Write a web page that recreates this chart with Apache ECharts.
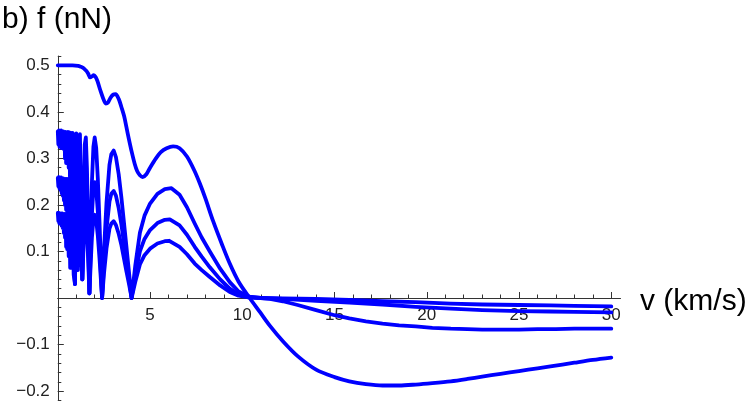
<!DOCTYPE html>
<html>
<head>
<meta charset="utf-8">
<script src="https://cdn.jsdelivr.net/npm/echarts@6/dist/echarts.min.js"></script>
<style>
  html, body { margin: 0; background: #fff; }
  #chart { width: 750px; height: 407px; }
</style>
</head>
<body>
<div id="chart"></div>
<script>
// force f (nN) against speed v (km/s), four curves
const curveA = [
  [0, 0.5], [0.4, 0.5], [0.8, 0.5], [1.1, 0.499], [1.25, 0.497], [1.35, 0.495], [1.45, 0.492],
  [1.55, 0.488], [1.65, 0.482], [1.75, 0.474], [1.85, 0.476], [1.95, 0.479], [2.05, 0.475],
  [2.15, 0.466], [2.3, 0.447], [2.45, 0.43], [2.6, 0.418], [2.72, 0.42], [2.85, 0.43],
  [3.0, 0.437], [3.13, 0.438], [3.3, 0.428], [3.45, 0.41], [3.6, 0.39], [3.72, 0.367],
  [3.85, 0.342], [4.0, 0.315], [4.17, 0.288], [4.3, 0.273], [4.45, 0.264], [4.6, 0.26],
  [4.8, 0.266], [5.0, 0.28], [5.3, 0.299], [5.6, 0.314], [5.9, 0.322], [6.25, 0.326],
  [6.6, 0.322], [7.0, 0.304], [7.4, 0.274], [7.7, 0.246], [8.0, 0.214], [8.42, 0.165],
  [8.9, 0.115], [9.32, 0.074], [9.8, 0.035], [10.4, 0.0], [10.95, -0.03], [11.5, -0.06],
  [12.2, -0.093], [13.0, -0.125], [14.0, -0.154], [15.0, -0.17], [15.8, -0.179], [16.7, -0.185],
  [17.6, -0.188], [18.5, -0.188], [19.4, -0.186], [20.3, -0.183], [21.3, -0.179], [22.2, -0.174],
  [23.0, -0.169], [24.0, -0.163], [25.0, -0.157], [26.0, -0.151], [26.7, -0.147], [28.0, -0.139],
  [29.0, -0.133], [30.0, -0.128]
];

const curveB = [
  [0, 0.358], [0.03, 0.33], [0.06, 0.36], [0.09, 0.325], [0.12, 0.358], [0.15, 0.33], [0.18, 0.36],
  [0.21, 0.322], [0.24, 0.357], [0.27, 0.325], [0.3, 0.358], [0.33, 0.32], [0.36, 0.356], [0.39, 0.3],
  [0.42, 0.357], [0.45, 0.29], [0.48, 0.356], [0.51, 0.29], [0.55, 0.357], [0.59, 0.28], [0.63, 0.356],
  [0.67, 0.22], [0.71, 0.355], [0.76, 0.15], [0.8, 0.355], [0.86, 0.14], [0.93, 0.03], [1.0, 0.354],
  [1.09, 0.12], [1.2, 0.352], [1.33, 0.04], [1.4, 0.22], [1.46, 0.33], [1.52, 0.345], [1.58, 0.28],
  [1.65, 0.15], [1.714, 0.01], [1.78, 0.14], [1.85, 0.25], [1.93, 0.325], [2.0, 0.345], [2.08, 0.323],
  [2.17, 0.256], [2.26, 0.163], [2.34, 0.07], [2.4, 0], [2.5, 0.1], [2.64, 0.205], [2.8, 0.286],
  [2.9, 0.309], [3.03, 0.317], [3.15, 0.303], [3.3, 0.266], [3.45, 0.215], [3.72, 0.11], [3.86, 0.055],
  [4.0, 0], [4.2, 0.07], [4.45, 0.14], [4.7, 0.177], [5.0, 0.203], [5.4, 0.224], [5.8, 0.234],
  [6.16, 0.236], [6.6, 0.222], [7.0, 0.195], [7.42, 0.16], [7.8, 0.13], [8.24, 0.1], [8.8, 0.063],
  [9.32, 0.034], [9.8, 0.014], [10.4, 0.003], [11.0, 0.0], [11.5, -0.002], [12.2, -0.007],
  [13.0, -0.015], [14.0, -0.026], [15.0, -0.037], [15.8, -0.044], [16.7, -0.05], [17.6, -0.055],
  [18.5, -0.059], [19.4, -0.061], [20.3, -0.064], [21.3, -0.066], [22.2, -0.067], [23.0, -0.068],
  [24.0, -0.068], [25.0, -0.068], [26.0, -0.067], [27.0, -0.067], [28.0, -0.066], [29.0, -0.066],
  [30.0, -0.066]
];

const curveC = [
  [0, 0.258], [0.03, 0.24], [0.06, 0.26], [0.09, 0.235], [0.12, 0.258], [0.15, 0.232], [0.18, 0.259],
  [0.21, 0.225], [0.24, 0.257], [0.27, 0.22], [0.3, 0.257], [0.33, 0.21], [0.36, 0.256], [0.39, 0.2],
  [0.42, 0.256], [0.45, 0.19], [0.48, 0.256], [0.51, 0.18], [0.55, 0.256], [0.59, 0.16], [0.63, 0.255],
  [0.67, 0.13], [0.71, 0.255], [0.76, 0.1], [0.8, 0.255], [0.86, 0.09], [0.93, 0.03], [1.0, 0.254],
  [1.09, 0.09], [1.2, 0.253], [1.33, 0.04], [1.4, 0.16], [1.46, 0.24], [1.52, 0.25], [1.58, 0.203],
  [1.65, 0.109], [1.714, 0.01], [1.78, 0.1], [1.85, 0.18], [1.93, 0.235], [2.0, 0.249], [2.08, 0.234],
  [2.17, 0.185], [2.26, 0.118], [2.34, 0.05], [2.4, 0], [2.5, 0.071], [2.64, 0.149], [2.8, 0.207],
  [2.9, 0.224], [3.03, 0.23], [3.15, 0.22], [3.3, 0.193], [3.45, 0.157], [3.72, 0.08], [3.86, 0.04],
  [4.0, 0], [4.2, 0.05], [4.45, 0.1], [4.7, 0.127], [5.0, 0.146], [5.4, 0.161], [5.8, 0.168],
  [6.07, 0.169], [6.6, 0.156], [7.0, 0.136], [7.42, 0.11], [7.8, 0.089], [8.24, 0.066], [8.8, 0.04],
  [9.32, 0.02], [9.8, 0.008], [10.4, 0.002], [11.0, 0.0], [12.2, -0.002], [14.0, -0.006],
  [15.8, -0.01], [17.6, -0.014], [19.4, -0.019], [21.3, -0.023], [23.0, -0.026], [25.0, -0.028],
  [26.7, -0.029], [28.0, -0.03], [30.0, -0.031]
];

const curveD = [
  [0, 0.183], [0.03, 0.165], [0.06, 0.183], [0.09, 0.16], [0.12, 0.182], [0.15, 0.16], [0.18, 0.182],
  [0.21, 0.155], [0.24, 0.182], [0.27, 0.15], [0.3, 0.181], [0.33, 0.14], [0.36, 0.181], [0.39, 0.13],
  [0.42, 0.18], [0.45, 0.11], [0.48, 0.18], [0.51, 0.105], [0.55, 0.18], [0.59, 0.09], [0.63, 0.18],
  [0.67, 0.065], [0.71, 0.18], [0.76, 0.065], [0.8, 0.18], [0.86, 0.05], [0.93, 0.03], [1.0, 0.18],
  [1.09, 0.06], [1.2, 0.18], [1.33, 0.04], [1.4, 0.114], [1.46, 0.17], [1.52, 0.18], [1.58, 0.146],
  [1.65, 0.078], [1.714, 0.01], [1.78, 0.071], [1.85, 0.13], [1.93, 0.169], [2.0, 0.179], [2.08, 0.168],
  [2.17, 0.133], [2.26, 0.085], [2.34, 0.036], [2.4, 0], [2.5, 0.051], [2.64, 0.107], [2.8, 0.149],
  [2.9, 0.16], [3.03, 0.165], [3.15, 0.157], [3.3, 0.138], [3.45, 0.113], [3.72, 0.057], [3.86, 0.03],
  [4.0, 0], [4.2, 0.035], [4.45, 0.072], [4.7, 0.092], [5.0, 0.106], [5.4, 0.117], [5.8, 0.122],
  [6.04, 0.123], [6.6, 0.11], [7.0, 0.094], [7.42, 0.074], [7.8, 0.06], [8.24, 0.045], [8.8, 0.027],
  [9.32, 0.013], [9.8, 0.005], [10.4, 0.001], [11.0, 0.0], [12.2, -0.001], [14.0, -0.002],
  [15.8, -0.004], [17.6, -0.007], [19.4, -0.009], [21.3, -0.012], [23.0, -0.014], [25.0, -0.015],
  [26.7, -0.016], [28.0, -0.017], [30.0, -0.018]
];

const xTickStep = 5;
const yTickStep = 0.1;

const chart = echarts.init(document.getElementById("chart"), null, { renderer: "canvas" });

// pixel mapping of the original plot
const X0 = 57.8, Y0 = 298;
const PX_X = 18.45;   // px per km/s
const PX_Y = 465.3;   // px per nN

const axisColor = "#333";
const labelFont = { fontSize: 17, color: "#222", fontFamily: "Liberation Sans" };
const lineColor = "#0000ff";
const noLine = { show: false, onZero: false };

const fmtY = (v) => {
  if (Math.abs(v) < 1e-9) return "";
  return v < 0 ? "\u2212" + (-v).toFixed(1) : v.toFixed(1);
};
const fmtX = (v) => (v === 0 ? "" : String(v));

const makeSeries = (data, smooth) => ({
  type: "line",
  xAxisIndex: 0,
  yAxisIndex: 0,
  data: data,
  smooth: smooth,
  showSymbol: false,
  silent: true,
  lineStyle: { color: lineColor, width: 3.8, join: "round", cap: "round" },
});

const option = {
  animation: false,
  backgroundColor: "#fff",
  grid: [
    // 0: data grid, axis lines run a little past the last ticks
    {
      left: X0, top: Y0 - 0.52 * PX_Y, width: 30.5 * PX_X, height: 0.74 * PX_Y,
      outerBoundsMode: "none", containLabel: false,
    },
    // 1: y ticks and labels
    {
      left: X0, top: Y0 - 0.5 * PX_Y, width: 30 * PX_X, height: 0.7 * PX_Y,
      outerBoundsMode: "none", containLabel: false,
    },
    // 2: x ticks and labels, bottom edge sits on f = 0
    {
      left: X0, top: 100, width: 30 * PX_X, height: Y0 - 100,
      outerBoundsMode: "none", containLabel: false,
    },
  ],
  xAxis: [
    {
      gridIndex: 0, type: "value", min: 0, max: 30.5,
      axisLine: { onZero: true, lineStyle: { color: axisColor, width: 1 } },
      axisTick: { show: false }, axisLabel: { show: false }, splitLine: { show: false },
    },
    {
      gridIndex: 1, type: "value", min: 0, max: 30, show: false,
    },
    {
      gridIndex: 2, type: "value", min: 0, max: 30, interval: xTickStep, position: "bottom",
      axisLine: noLine,
      axisTick: { inside: true, length: 6, lineStyle: { color: axisColor } },
      minorTick: { show: true, splitNumber: 5, length: 3.5, lineStyle: { color: axisColor } },
      axisLabel: { ...labelFont, margin: 9, formatter: fmtX },
      splitLine: { show: false },
    },
  ],
  yAxis: [
    {
      gridIndex: 0, type: "value", min: -0.22, max: 0.52, interval: 0.02,
      axisLine: { show: true, onZero: true, lineStyle: { color: axisColor, width: 1 } },
      axisTick: { inside: true, length: 3.5, lineStyle: { color: axisColor } },
      axisLabel: { show: false }, splitLine: { show: false },
    },
    {
      gridIndex: 1, type: "value", min: -0.2, max: 0.5, interval: yTickStep, position: "left",
      axisLine: noLine,
      axisTick: { inside: true, length: 6, lineStyle: { color: axisColor } },
      axisLabel: { ...labelFont, margin: 8, formatter: fmtY },
      splitLine: { show: false },
    },
    {
      gridIndex: 2, type: "value", min: 0, max: 1, show: false,
    },
  ],
  graphic: [
    {
      type: "text", left: 2, top: 5,
      style: { text: "b) f (nN)", font: '30px "Liberation Sans"', fill: "#000" },
    },
    {
      type: "text", left: 640, top: 287,
      style: { text: "v (km/s)", font: '30px "Liberation Sans"', fill: "#000" },
    },
  ],
  series: [
    makeSeries(curveA, 0.3),
    makeSeries(curveB, false),
    makeSeries(curveC, false),
    makeSeries(curveD, false),
  ],
};

chart.setOption(option);
</script>
</body>
</html>
